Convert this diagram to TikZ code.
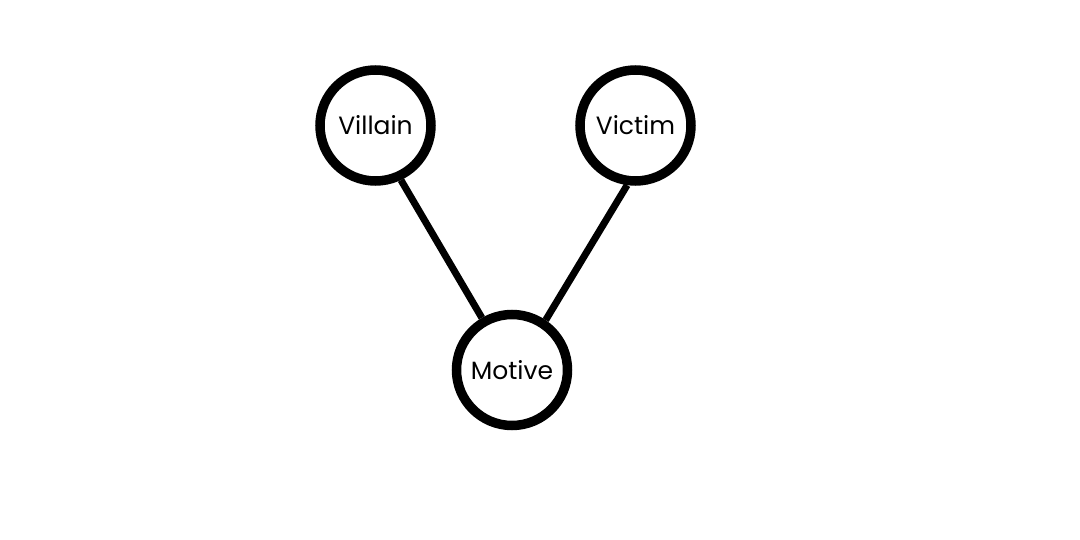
\documentclass[tikz,border=0pt]{standalone}
\usepackage{fontspec}
\setmainfont{Poppins}
\usetikzlibrary{positioning}

\begin{document}
\begin{tikzpicture}[x=1pt, y=-1pt,
    person/.style={draw, circle, line width=9.5pt, minimum size=111pt, inner sep=0pt, font=\fontsize{25}{30}\selectfont},
    link/.style={draw, line width=7pt}
]
    \useasboundingbox (0,0) rectangle (1080,540);
    \node (villain) [person] at (375.5,125.5) {Villain};
    \node (victim) [person] at (635.5,125.5) {Victim};
    \node (motive) [person] at (512,370) {Motive};

    \path [link] (villain.-65) -- (motive.120);
    \path [link] (victim.-98) -- (motive.56);
\end{tikzpicture}
\end{document}
